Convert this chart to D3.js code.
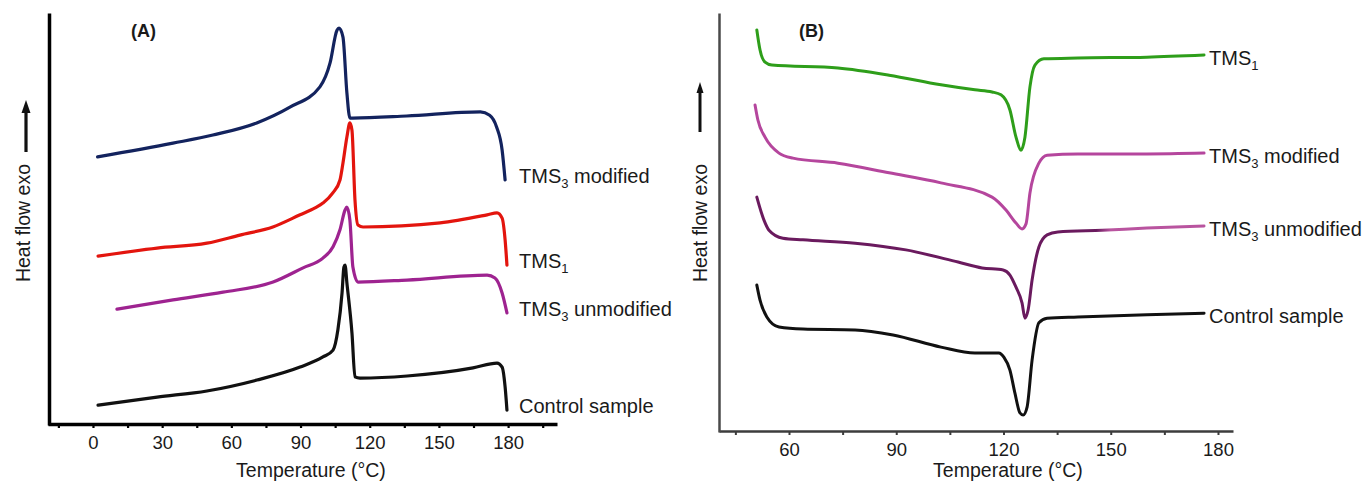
<!DOCTYPE html>
<html><head><meta charset="utf-8">
<script src="https://cdn.jsdelivr.net/npm/d3@7"></script>
<style>
body{margin:0;background:#fff}
svg{display:block}
text{font-family:"Liberation Sans",Arial,Helvetica,sans-serif;fill:#1a1a1a}
</style>
</head><body>
<svg id="c" width="1363" height="482"></svg>
<script>
// ---------------- Panel A (heating / crystallisation exotherms) ----------------
const majorTicksA = [0, 30, 60, 90, 120, 150, 180];
const minorTicksA = [-15, 15, 45, 75, 105, 135, 165, 195];

const tempA_tms3mod = [2, 34.7, 52, 71, 85.4, 98.4, 102.8, 105.8, 106.7, 108.4, 110.1, 111.4, 112.7, 136, 168, 172, 175, 177.4, 178.7];
const heatA_tms3mod = [65.7, 69.1, 71.1, 74.1, 78.0, 83.0, 88.9, 97.0, 97.5, 95.3, 81.5, 75.3, 75.3, 75.8, 76.8, 76.0, 73.1, 67.4, 60.0];

const tempA_tms1 = [2.2, 27.8, 49.4, 63.7, 78, 89.8, 96.3, 99.7, 104, 107.1, 108.4, 110.1, 111.4, 112.3, 113.6, 114.9, 117.1, 150.5, 170.9, 175.2, 177.4, 178.7, 179.5];
const heatA_tms1 = [41.2, 43.2, 44.4, 46.4, 48.4, 51.4, 53.1, 54.3, 56.8, 60.0, 64.2, 70.6, 74.1, 72.3, 55.1, 48.9, 48.4, 49.4, 51.4, 51.9, 50.6, 45.2, 39.0];

const tempA_tms3unmod = [10.4, 34.7, 56.4, 78.1, 91.1, 99.7, 104.1, 107.1, 109.3, 110.1, 111.4, 112.7, 114.9, 136.2, 170.9, 174.3, 177.4, 179.5];
const heatA_tms3unmod = [28.1, 30.4, 32.3, 34.8, 38.3, 40.7, 43.5, 47.7, 52.6, 53.3, 50.1, 38.5, 34.8, 35.3, 36.5, 35.8, 32.1, 27.2];

const tempA_control = [2.2, 27.8, 49.4, 71.1, 89.8, 99.7, 104.1, 106.2, 108.0, 108.8, 109.3, 110.1, 112.3, 113.6, 115.8, 136.2, 164.8, 175.2, 177.4, 178.7, 179.5];
const heatA_control = [4.4, 6.4, 7.9, 10.6, 13.8, 16.3, 18.0, 23.0, 32.1, 38.5, 39.0, 34.6, 22.2, 11.4, 11.1, 11.6, 13.6, 14.8, 13.8, 8.9, 3.2];

// ---------------- Panel B (melting endotherms) ----------------
const majorTicksB = [60, 90, 120, 150, 180];
const minorTicksB = [45, 75, 105, 135, 165];

const tempB_tms1 = [51.0, 51.9, 53.3, 55.2, 73.7, 88.0, 102.5, 112.0, 116.8, 119.3, 121.8, 123.5, 124.9, 126.0, 127.4, 128.8, 131.3, 140.8, 160.1, 176.1];
const heatB_tms1 = [96.2, 91.4, 88.5, 87.8, 87.1, 85.4, 83.1, 81.9, 81.4, 80.7, 77.1, 70.6, 67.5, 70.6, 82.6, 87.8, 89.3, 89.5, 89.7, 90.2];

const tempB_tms3mod = [50.5, 51.3, 53.3, 57.2, 61.1, 73.7, 88.0, 102.5, 116.8, 120.7, 123.5, 125.2, 126.3, 127.4, 129.9, 132.2, 140.8, 160.1, 176.1];
const heatB_tms3mod = [78.3, 74.7, 70.6, 66.8, 65.6, 64.4, 62.1, 59.7, 56.3, 53.2, 50.1, 48.7, 49.9, 57.3, 64.4, 66.3, 66.6, 66.6, 66.8];

const tempB_tms3unmod = [51.0, 53.0, 54.4, 58.3, 63.9, 78.5, 92.7, 107.3, 114.0, 119.9, 121.8, 123.5, 125.2, 126.0, 126.9, 128.0, 129.9, 132.2, 135.2, 147.6, 160.1, 176.1];
const heatB_tms3unmod = [56.3, 50.8, 48.4, 46.5, 46.1, 45.3, 43.7, 40.8, 39.4, 38.9, 37.7, 34.8, 31.0, 27.4, 29.4, 36.5, 44.4, 47.3, 48.0, 48.4, 48.9, 49.4];

const tempB_control = [51.0, 51.9, 53.8, 57.2, 63.9, 78.5, 89.1, 102.5, 112.0, 118.7, 120.1, 121.8, 123.2, 124.6, 125.5, 126.6, 128.0, 129.9, 132.2, 140.8, 160.1, 176.1];
const heatB_control = [35.3, 31.7, 27.7, 25.3, 24.8, 24.6, 23.4, 20.5, 19.1, 19.1, 18.1, 15.0, 9.5, 4.8, 4.3, 6.2, 17.4, 26.3, 27.4, 27.7, 28.2, 28.6];

// labels: [base, subscript, rest]
const labelsA = [["TMS", "3", " modified"], ["TMS", "1", ""], ["TMS", "3", " unmodified"], ["Control sample", "", ""]];
const labelsB = [["TMS", "1", ""], ["TMS", "3", " modified"], ["TMS", "3", " unmodified"], ["Control sample", "", ""]];
const axisTitleX = "Temperature (°C)";
const axisTitleY = "Heat flow exo";

// ------------------------------------------------------------------
const svg = d3.select("#c");

function zip(t, h) { return t.map((v, i) => [v, h[i]]); }

function addLabel(g, x, y, parts) {
  const t = g.append("text").attr("x", x).attr("y", y).style("font-size", "20px");
  t.append("tspan").text(parts[0]);
  if (parts[1]) {
    t.append("tspan").attr("dy", 5).style("font-size", "13px").text(parts[1]);
    if (parts[2]) t.append("tspan").attr("dy", -5).text(parts[2]);
  }
}

function drawArrow(x, yTop, yBot, headW, headH, w) {
  svg.append("line").attr("x1", x).attr("x2", x).attr("y1", yBot).attr("y2", yTop + headH - 1)
    .attr("stroke", "#111").attr("stroke-width", w);
  svg.append("path").attr("d", `M${x},${yTop} L${x - headW / 2},${yTop + headH} L${x + headW / 2},${yTop + headH} Z`)
    .attr("fill", "#111");
}

// ---------- Panel A ----------
const xA = d3.scaleLinear().domain([-19.5, 201.2]).range([48, 557]);
const yA = d3.scaleLinear().domain([0, 100]).range([423, 18]);
const yAxisA = d3.scaleLinear().domain([0, 1]).range([425, 13]);

const gAx = svg.append("g").attr("transform", "translate(0,424)")
  .call(d3.axisBottom(xA).tickValues(majorTicksA.concat(minorTicksA).sort((a, b) => a - b))
    .tickSize(4).tickSizeOuter(0).tickPadding(8)
    .tickFormat(d => majorTicksA.includes(d) ? d : ""));
gAx.select(".domain").attr("stroke", "#000").attr("stroke-width", 3.5);
gAx.selectAll(".tick line").attr("stroke", "#000").attr("stroke-width", 2.2);
gAx.selectAll(".tick text").style("font-size", "18.5px").attr("fill", "#1a1a1a")
  .style("font-family", '"Liberation Sans",Arial,sans-serif');

const gAy = svg.append("g").attr("transform", "translate(49,0)")
  .call(d3.axisLeft(yAxisA).tickValues([]).tickSizeOuter(0));
gAy.select(".domain").attr("stroke", "#000").attr("stroke-width", 3.5);

const lineA = d3.line().x(d => xA(d[0])).y(d => yA(d[1])).curve(d3.curveMonotoneX);
const seriesA = [
  { t: tempA_tms3mod, h: heatA_tms3mod, c: "#13235e" },
  { t: tempA_tms1, h: heatA_tms1, c: "#e3150e" },
  { t: tempA_tms3unmod, h: heatA_tms3unmod, c: "#9e2390" },
  { t: tempA_control, h: heatA_control, c: "#111111" }
];
seriesA.forEach((s, i) => {
  svg.append("path").datum(zip(s.t, s.h)).attr("d", lineA)
    .attr("fill", "none").attr("stroke", s.c).attr("stroke-width", 3.2)
    .attr("stroke-linejoin", "round").attr("stroke-linecap", "round");
  const last = s.h[s.h.length - 1];
  addLabel(svg, 519, yA(last) + 3, labelsA[i]);
});

svg.append("text").attr("x", 131).attr("y", 37).style("font-size", "18px").style("font-weight", "bold").text("(A)");
svg.append("text").attr("x", 311).attr("y", 477).attr("text-anchor", "middle").style("font-size", "19.5px").text(axisTitleX);
svg.append("text").attr("transform", "translate(30,223) rotate(-90)").attr("text-anchor", "middle")
  .style("font-size", "19.5px").text(axisTitleY);
drawArrow(26, 100, 152, 9, 13, 3.2);

// ---------- Panel B ----------
const xB = d3.scaleLinear().domain([40.42, 184.2]).range([719, 1233]);
const yB = d3.scaleLinear().domain([0, 100]).range([433, 14]);
const yAxisB = d3.scaleLinear().domain([0, 1]).range([432, 13]);

const gBx = svg.append("g").attr("transform", "translate(0,431)")
  .call(d3.axisBottom(xB).tickValues(majorTicksB.concat(minorTicksB).sort((a, b) => a - b))
    .tickSize(4).tickSizeOuter(0).tickPadding(8)
    .tickFormat(d => majorTicksB.includes(d) ? d : ""));
gBx.select(".domain").attr("stroke", "#3c3c3c").attr("stroke-width", 2.5);
gBx.selectAll(".tick line").attr("stroke", "#3c3c3c").attr("stroke-width", 2);
gBx.selectAll(".tick text").style("font-size", "18.5px").attr("fill", "#1a1a1a")
  .style("font-family", '"Liberation Sans",Arial,sans-serif');

const gBy = svg.append("g").attr("transform", "translate(719,0)")
  .call(d3.axisLeft(yAxisB).tickValues([]).tickSizeOuter(0));
gBy.select(".domain").attr("stroke", "#4a4a4a").attr("stroke-width", 2.5);

// gradient for the TMS3 unmodified trace (colour fades lighter after ~148 °C)
const defs = svg.append("defs");
const grad = defs.append("linearGradient").attr("id", "gUnmod").attr("gradientUnits", "userSpaceOnUse")
  .attr("x1", xB(146)).attr("x2", xB(150)).attr("y1", 0).attr("y2", 0);
grad.append("stop").attr("offset", 0).attr("stop-color", "#6a1a5e");
grad.append("stop").attr("offset", 1).attr("stop-color", "#b9549f");

const lineB = d3.line().x(d => xB(d[0])).y(d => yB(d[1])).curve(d3.curveMonotoneX);
const seriesB = [
  { t: tempB_tms1, h: heatB_tms1, c: "#2e9e1a" },
  { t: tempB_tms3mod, h: heatB_tms3mod, c: "#b5469d" },
  { t: tempB_tms3unmod, h: heatB_tms3unmod, c: "url(#gUnmod)" },
  { t: tempB_control, h: heatB_control, c: "#111111" }
];
seriesB.forEach((s, i) => {
  svg.append("path").datum(zip(s.t, s.h)).attr("d", lineB)
    .attr("fill", "none").attr("stroke", s.c).attr("stroke-width", 3)
    .attr("stroke-linejoin", "round").attr("stroke-linecap", "round");
  const last = s.h[s.h.length - 1];
  addLabel(svg, 1209, yB(last) + 10, labelsB[i]);
});

svg.append("text").attr("x", 799).attr("y", 37).style("font-size", "18px").style("font-weight", "bold").text("(B)");
svg.append("text").attr("x", 1008).attr("y", 477).attr("text-anchor", "middle").style("font-size", "19.5px").text(axisTitleX);
svg.append("text").attr("transform", "translate(707,223) rotate(-90)").attr("text-anchor", "middle")
  .style("font-size", "19.5px").text(axisTitleY);
drawArrow(700, 82, 132, 7, 11, 3);
</script>
</body></html>
